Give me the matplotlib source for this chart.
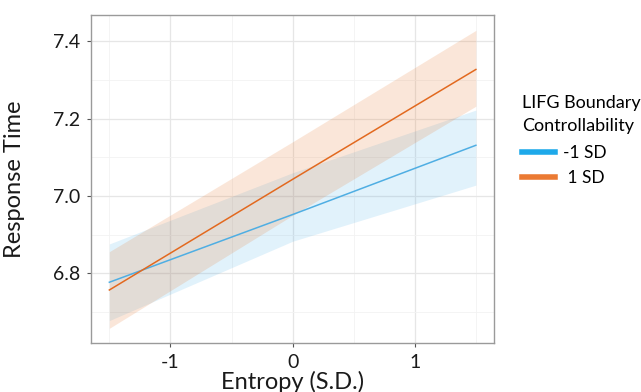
import numpy as np
import matplotlib.pyplot as plt
from matplotlib.lines import Line2D

plt.rcParams['font.family'] = ['Lato', 'DejaVu Sans']

# values at x = -1.5, 0, 1.5
entropy = [-1.5, 0.0, 1.5]
groups = ['-1 SD', ' 1 SD']
fit_low = [6.777, 6.952, 7.131]
lower_low = [6.678, 6.883, 7.028]
upper_low = [6.876, 7.060, 7.222]
fit_high = [6.757, 7.043, 7.327]
lower_high = [6.658, 6.950, 7.232]
upper_high = [6.856, 7.140, 7.428]

col_low = '#4FAEE3'
col_high = '#E2691F'

fig = plt.figure(figsize=(6.41, 3.92), dpi=100)
ax = fig.add_axes([0.142, 0.125, 0.629, 0.837])

ax.fill_between(entropy, lower_low, upper_low, color='#38A9E6', alpha=0.15, lw=0)
ax.fill_between(entropy, lower_high, upper_high, color='#E8782E', alpha=0.18, lw=0)
ax.plot(entropy, fit_low, color=col_low, lw=1.1)
ax.plot(entropy, fit_high, color=col_high, lw=1.1)

ax.set_xlim(-1.65, 1.65)
ax.set_ylim(6.62, 7.468)
ax.set_xticks([-1, 0, 1])
ax.set_xticklabels(['-1', '0', '1'])
ax.set_yticks([6.8, 7.0, 7.2, 7.4])
ax.set_yticklabels(['6.8', '7.0', '7.2', '7.4'])
ax.set_xticks([-1.5, -0.5, 0.5, 1.5], minor=True)
ax.set_yticks([6.7, 6.9, 7.1, 7.3], minor=True)
ax.grid(which='major', color='#E6E6E6', lw=0.9)
ax.grid(which='minor', color='#F2F2F2', lw=0.6)
ax.set_axisbelow(True)
ax.tick_params(which='major', length=3, color='#555555', labelsize=14,
               labelcolor='#1a1a1a', pad=5)
ax.tick_params(which='minor', length=0)
for s in ax.spines.values():
    s.set_color('#9A9A9A')
    s.set_linewidth(1.0)

ax.set_xlabel('Entropy (S.D.)', fontsize=17, color='#1a1a1a', labelpad=0)
ax.set_ylabel('Response Time', fontsize=17, color='#1a1a1a', labelpad=20)

handles = [Line2D([0], [0], color='#1EA9EA', lw=4),
           Line2D([0], [0], color='#EB7A33', lw=4)]
leg = fig.legend(handles, groups, title='LIFG Boundary\nControllability',
                 loc='upper left', bbox_to_anchor=(0.803, 0.775), frameon=False,
                 fontsize=12.5, title_fontsize=13, handlelength=1.9,
                 handletextpad=0.5, labelspacing=0.55, borderaxespad=0)
leg._legend_box.align = 'left'
leg.get_title().set_linespacing(1.5)
leg._legend_box.sep = 8

fig.savefig('out.png', dpi=100)
